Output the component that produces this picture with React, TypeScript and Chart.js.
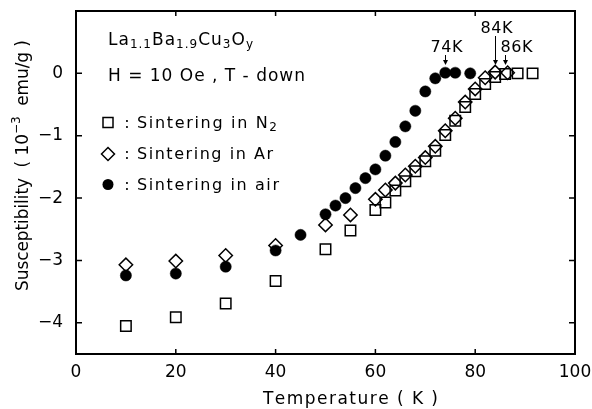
import React, { useEffect, useRef } from 'react';
import { Chart, registerables } from 'chart.js';

Chart.register(...registerables);

// ---- data ----
const n2Temp = [10, 20, 30, 40, 50, 55, 60, 62, 64, 66, 68, 70, 72, 74, 76, 78, 80, 82, 84, 86, 88.5, 91.5];
const n2Chi = [-4.05, -3.91, -3.69, -3.33, -2.82, -2.52, -2.19, -2.07, -1.88, -1.73, -1.57, -1.41, -1.24, -0.99, -0.76, -0.54, -0.33, -0.17, -0.06, -0.01, 0, 0];

const arTemp = [10, 20, 30, 40, 50, 55, 60, 62, 64, 66, 68, 70, 72, 74, 76, 78, 80, 82, 84, 86.5];
const arChi = [-3.07, -3.01, -2.92, -2.76, -2.43, -2.27, -2.02, -1.87, -1.76, -1.63, -1.49, -1.35, -1.17, -0.92, -0.72, -0.46, -0.25, -0.07, 0.02, 0.01];

const airTemp = [10, 20, 30, 40, 45, 50, 52, 54, 56, 58, 60, 62, 64, 66, 68, 70, 72, 74, 76, 79];
const airChi = [-3.24, -3.21, -3.1, -2.84, -2.59, -2.26, -2.12, -2.0, -1.84, -1.68, -1.54, -1.32, -1.1, -0.85, -0.6, -0.29, -0.08, 0.01, 0.01, 0];

const xTicks = [0, 20, 40, 60, 80, 100];
const yTicks = [-4, -3, -2, -1, 0];

const tcTemps = [74, 84, 86];
const tcLabels = ['74K', '84K', '86K'];

const sampleName = ['La', '1.1', 'Ba', '1.9', 'Cu', '3', 'O', 'y'];
const conditionText = 'H = 10 Oe , T - down';
const legendMain = ['Sintering in N', 'Sintering in Ar', 'Sintering in air'];
const legendSub = ['2', '', ''];
const xTitle = 'Temperature ( K )';
const yTitleParts = ['Susceptibility  ( 10', '\u22123', '  emu/g )'];

const FONT = '"DejaVu Sans", "Liberation Sans", sans-serif';

type Seg = { t: string; size: number; dy: number };

function drawRich(ctx: CanvasRenderingContext2D, segs: Seg[], x: number, y: number, target: number | null, spacing = 1) {
  let natural = 0;
  let n = 0;
  for (const s of segs) {
    ctx.font = `${s.size}px ${FONT}`;
    for (const ch of s.t) {
      natural += ctx.measureText(ch).width;
      n++;
    }
  }
  const sp = target != null && n > 1 ? (target - natural) / (n - 1) : spacing;
  let cx = x;
  for (const s of segs) {
    ctx.font = `${s.size}px ${FONT}`;
    for (const ch of s.t) {
      ctx.fillText(ch, cx, y + s.dy);
      cx += ctx.measureText(ch).width + sp;
    }
  }
}

const decorPlugin = {
  id: 'decor',
  afterDatasetsDraw(chart: any) {
    const ctx: CanvasRenderingContext2D = chart.ctx;
    const { left, right, top, bottom } = chart.chartArea;
    const xs = chart.scales.x;
    const ys = chart.scales.y;
    ctx.save();
    ctx.strokeStyle = '#000';
    ctx.fillStyle = '#000';

    // frame
    ctx.lineWidth = 2;
    ctx.strokeRect(left, top, right - left, bottom - top);

    // inward ticks on all sides
    ctx.lineWidth = 1.5;
    ctx.beginPath();
    for (const v of xTicks) {
      if (v === xs.min || v === xs.max) continue;
      const px = xs.getPixelForValue(v);
      ctx.moveTo(px, bottom);
      ctx.lineTo(px, bottom - 5);
      ctx.moveTo(px, top);
      ctx.lineTo(px, top + 5);
    }
    for (const v of yTicks) {
      const py = ys.getPixelForValue(v);
      ctx.moveTo(left, py);
      ctx.lineTo(left + 6, py);
      ctx.moveTo(right, py);
      ctx.lineTo(right - 6, py);
    }
    ctx.stroke();

    ctx.textBaseline = 'alphabetic';
    ctx.textAlign = 'left';

    // sample name with subscripts
    const nameSegs: Seg[] = sampleName.map((t, i) => ({ t, size: i % 2 === 0 ? 17 : 12, dy: i % 2 === 0 ? 0 : 3 }));
    drawRich(ctx, nameSegs, 108, 45, 145);

    // condition line
    drawRich(ctx, [{ t: conditionText, size: 17, dy: 0 }], 108, 81, 197);

    // legend block
    const legendBase = [128, 159, 189.5];
    const legendTarget = [140, 136, 142];
    const mx = 108;
    ctx.lineWidth = 1.5;
    // square
    ctx.strokeRect(mx - 5, legendBase[0] - 10.5, 10, 10);
    // diamond
    ctx.beginPath();
    const dyc = legendBase[1] - 5;
    ctx.moveTo(mx, dyc - 6.5);
    ctx.lineTo(mx + 6.5, dyc);
    ctx.lineTo(mx, dyc + 6.5);
    ctx.lineTo(mx - 6.5, dyc);
    ctx.closePath();
    ctx.stroke();
    // circle
    ctx.beginPath();
    ctx.arc(mx, legendBase[2] - 5, 5.5, 0, Math.PI * 2);
    ctx.fill();

    for (let i = 0; i < legendMain.length; i++) {
      ctx.font = `16px ${FONT}`;
      ctx.textAlign = 'center';
      ctx.fillText(':', 127, legendBase[i]);
      ctx.textAlign = 'left';
      const segs: Seg[] = [{ t: legendMain[i], size: 16, dy: 0 }];
      if (legendSub[i]) segs.push({ t: legendSub[i], size: 12, dy: 3 });
      drawRich(ctx, segs, 137, legendBase[i], legendTarget[i]);
    }

    // Tc arrows and labels
    const arrowTip = 65;
    const arrowStart = [55, 36, 55];
    const labelBase = [52, 33, 52];
    const labelOffset = [-15, -15, -5];
    ctx.lineWidth = 1;
    for (let i = 0; i < tcTemps.length; i++) {
      const px = Math.round(xs.getPixelForValue(tcTemps[i])) + 0.5;
      ctx.beginPath();
      ctx.moveTo(px, arrowStart[i]);
      ctx.lineTo(px, arrowTip - 3);
      ctx.stroke();
      ctx.beginPath();
      ctx.moveTo(px - 2.5, arrowTip - 5);
      ctx.lineTo(px + 2.5, arrowTip - 5);
      ctx.lineTo(px, arrowTip);
      ctx.closePath();
      ctx.fill();
      drawRich(ctx, [{ t: tcLabels[i], size: 16, dy: 0 }], px + labelOffset[i], labelBase[i], 32);
    }

    // x title
    drawRich(ctx, [{ t: xTitle, size: 17, dy: 0 }], 263, 404, 175);

    // y title (rotated)
    ctx.save();
    ctx.translate(28, 291);
    ctx.rotate(-Math.PI / 2);
    drawRich(
      ctx,
      [
        { t: yTitleParts[0], size: 17, dy: 0 },
        { t: yTitleParts[1], size: 12, dy: -8 },
        { t: yTitleParts[2], size: 17, dy: 0 },
      ],
      0,
      0,
      251
    );
    ctx.restore();

    ctx.restore();
  },
};

export default function App() {
  const canvasRef = useRef<HTMLCanvasElement | null>(null);

  useEffect(() => {
    document.body.style.margin = '0';
    const canvas = canvasRef.current;
    if (!canvas) return;
    const toPts = (xsArr: number[], ysArr: number[]) => xsArr.map((x, i) => ({ x, y: ysArr[i] }));
    const chart = new Chart(canvas, {
      type: 'scatter',
      data: {
        datasets: [
          {
            label: 'Sintering in N2',
            data: toPts(n2Temp, n2Chi),
            pointStyle: 'rect',
            pointRadius: 7.4,
            borderColor: '#000',
            backgroundColor: 'rgba(0,0,0,0)',
            borderWidth: 1.5,
          },
          {
            label: 'Sintering in Ar',
            data: toPts(arTemp, arChi),
            pointStyle: 'rectRot',
            pointRadius: 6.7,
            borderColor: '#000',
            backgroundColor: 'rgba(0,0,0,0)',
            borderWidth: 1.5,
          },
          {
            label: 'Sintering in air',
            data: toPts(airTemp, airChi),
            pointStyle: 'circle',
            pointRadius: 5.6,
            borderColor: '#000',
            backgroundColor: '#000',
            borderWidth: 0.5,
          },
        ],
      },
      options: {
        animation: false,
        responsive: false,
        maintainAspectRatio: false,
        devicePixelRatio: 1,
        layout: { padding: { top: 11, right: 17, bottom: 0, left: 0 } },
        plugins: {
          legend: { display: false },
          tooltip: { enabled: false },
          title: { display: false },
        },
        scales: {
          x: {
            type: 'linear',
            min: 0,
            max: 100,
            afterBuildTicks: (s: any) => {
              s.ticks = xTicks.map((v) => ({ value: v }));
            },
            afterFit: (s: any) => {
              s.height = 55;
              s.paddingLeft = 0;
              s.paddingRight = 0;
            },
            grid: { display: false, drawTicks: false },
            border: { display: false },
            ticks: {
              color: '#000',
              font: { family: FONT, size: 17 },
              padding: 8,
              maxRotation: 0,
              autoSkip: false,
              callback: (v: any) => String(v),
            },
          },
          y: {
            type: 'linear',
            min: -4.5,
            max: 1,
            afterBuildTicks: (s: any) => {
              s.ticks = yTicks.map((v) => ({ value: v }));
            },
            afterFit: (s: any) => {
              s.width = 76;
              s.paddingTop = 0;
              s.paddingBottom = 0;
            },
            grid: { display: false, drawTicks: false },
            border: { display: false },
            ticks: {
              color: '#000',
              font: { family: FONT, size: 17 },
              padding: 13,
              autoSkip: false,
              callback: (v: any) => (v === 0 ? '0' : '\u2212' + Math.abs(v)),
            },
          },
        },
      },
      plugins: [decorPlugin],
    } as any);
    return () => chart.destroy();
  }, []);

  return (
    <div style={{ position: 'absolute', left: 0, top: 0, width: 592, height: 409, background: '#fff' }}>
      <canvas ref={canvasRef} width={592} height={409} style={{ display: 'block', width: 592, height: 409 }} />
    </div>
  );
}
